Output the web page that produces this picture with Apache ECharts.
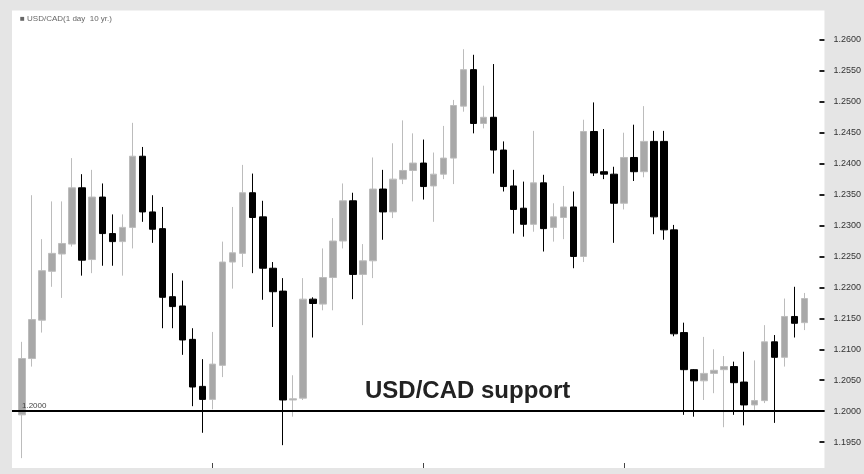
<!DOCTYPE html>
<html>
<head>
<meta charset="utf-8">
<script src="https://cdn.jsdelivr.net/npm/echarts@6/dist/echarts.min.js"></script>
<style>
  html, body { margin: 0; padding: 0; background: #e5e5e5; }
  #chart { width: 864px; height: 474px; }
</style>
</head>
<body>
<div id="chart"></div>
<script>
// daily USD/CAD candles
const open = [
  1.1994, 1.2085, 1.2147, 1.2226, 1.2254, 1.2270, 1.2361, 1.2245, 1.2346, 1.2287,
  1.2274, 1.2297, 1.2412, 1.2322, 1.2295, 1.2185, 1.2170, 1.2116, 1.2040, 1.2019,
  1.2074, 1.2241, 1.2255, 1.2353, 1.2314, 1.2231, 1.2194, 1.2018, 1.2021, 1.2181,
  1.2173, 1.2216, 1.2275, 1.2340, 1.2221, 1.2243, 1.2359, 1.2322, 1.2375, 1.2389,
  1.2401, 1.2364, 1.2383, 1.2409, 1.2493, 1.2552, 1.2465, 1.2475, 1.2422, 1.2364,
  1.2328, 1.2302, 1.2369, 1.2297, 1.2313, 1.2330, 1.2250, 1.2452, 1.2387, 1.2383,
  1.2336, 1.2410, 1.2387, 1.2436, 1.2436, 1.2293, 1.2127, 1.2067, 1.2049, 1.2061,
  1.2067, 1.2072, 1.2047, 1.2010, 1.2017, 1.2112, 1.2087, 1.2153, 1.2143
];
const close = [
  1.2085, 1.2148, 1.2227, 1.2255, 1.2271, 1.2361, 1.2244, 1.2346, 1.2287, 1.2274,
  1.2297, 1.2412, 1.2322, 1.2294, 1.2184, 1.2169, 1.2115, 1.2039, 1.2019, 1.2076,
  1.2241, 1.2256, 1.2353, 1.2313, 1.2231, 1.2193, 1.2018, 1.2020, 1.2181, 1.2174,
  1.2216, 1.2275, 1.2340, 1.2221, 1.2243, 1.2359, 1.2322, 1.2375, 1.2389, 1.2401,
  1.2363, 1.2383, 1.2409, 1.2494, 1.2552, 1.2465, 1.2475, 1.2422, 1.2363, 1.2326,
  1.2302, 1.2369, 1.2295, 1.2314, 1.2330, 1.2250, 1.2452, 1.2385, 1.2383, 1.2336,
  1.2410, 1.2387, 1.2436, 1.2314, 1.2293, 1.2125, 1.2067, 1.2049, 1.2061, 1.2066,
  1.2072, 1.2046, 1.2010, 1.2017, 1.2112, 1.2087, 1.2153, 1.2142, 1.2182
];
const low = [
  1.1924, 1.2072, 1.2127, 1.2201, 1.2183, 1.2266, 1.2219, 1.2223, 1.2235, 1.2235,
  1.2219, 1.2263, 1.2306, 1.2272, 1.2134, 1.2134, 1.2091, 1.2008, 1.1965, 1.2003,
  1.2055, 1.2198, 1.2233, 1.2223, 1.2180, 1.2136, 1.1945, 1.1991, 1.2018, 1.2119,
  1.2163, 1.2163, 1.2263, 1.2181, 1.2139, 1.2215, 1.2277, 1.2312, 1.2367, 1.2339,
  1.2342, 1.2306, 1.2375, 1.2367, 1.2484, 1.2449, 1.2457, 1.2384, 1.2355, 1.2287,
  1.2282, 1.2290, 1.2258, 1.2274, 1.2278, 1.2231, 1.2241, 1.2380, 1.2375, 1.2272,
  1.2326, 1.2372, 1.2378, 1.2286, 1.2277, 1.2121, 1.1994, 1.1991, 1.2018, 1.2029,
  1.1974, 1.1994, 1.1977, 1.2002, 1.2013, 1.1981, 1.2072, 1.2119, 1.2131
];
const high = [
  1.2112, 1.2349, 1.2278, 1.2339, 1.2339, 1.2409, 1.2383, 1.2390, 1.2368, 1.2318,
  1.2318, 1.2466, 1.2427, 1.2349, 1.2330, 1.2223, 1.2211, 1.2134, 1.2084, 1.2128,
  1.2274, 1.2330, 1.2398, 1.2384, 1.2340, 1.2241, 1.2215, 1.2058, 1.2215, 1.2184,
  1.2263, 1.2312, 1.2368, 1.2353, 1.2270, 1.2410, 1.2390, 1.2433, 1.2470, 1.2449,
  1.2439, 1.2418, 1.2461, 1.2503, 1.2585, 1.2576, 1.2526, 1.2561, 1.2436, 1.2390,
  1.2371, 1.2453, 1.2382, 1.2336, 1.2364, 1.2355, 1.2471, 1.2499, 1.2456, 1.2395,
  1.2450, 1.2463, 1.2493, 1.2453, 1.2453, 1.2301, 1.2143, 1.2068, 1.2120, 1.2100,
  1.2089, 1.2080, 1.2096, 1.2082, 1.2139, 1.2123, 1.2182, 1.2201, 1.2191
];
// labelled price range on the right axis
const yLabelMin = 1.195;
const yLabelMax = 1.26;
const xTicks = [19, 40, 60];
const supportLevel = 1.2;

const days = open.map((_, i) => i);
const candles = days.map((d, i) => [d, open[i], close[i], low[i], high[i]]);

const chart = echarts.init(document.getElementById("chart"));
chart.setOption({
  animation: false,
  backgroundColor: "#e5e5e5",
  title: {
    text: "\u25A0 USD/CAD(1 day  10 yr.)",
    left: 15,
    top: 10,
    textStyle: {
      fontFamily: "Liberation Sans, Arial, sans-serif",
      fontSize: 8,
      fontWeight: "normal",
      color: "#666"
    }
  },
  grid: {
    left: 12,
    right: 37,
    top: 9,
    bottom: 1,
    show: true,
    backgroundColor: "#fff",
    borderWidth: 0
  },
  xAxis: {
    type: "value",
    min: -1,
    max: 80,
    offset: -5,
    axisLine: { show: false, onZero: false },
    axisTick: {
      show: true,
      inside: true,
      length: 5,
      customValues: xTicks,
      lineStyle: { color: "#444" }
    },
    axisLabel: { show: false },
    splitLine: { show: false }
  },
  yAxis: {
    type: "value",
    position: "right",
    offset: -5,
    min: 1.19,
    max: 1.265,
    interval: 0.005,
    axisLine: { show: false, onZero: false },
    axisTick: {
      show: true,
      length: 5,
      lineStyle: { color: "#222", width: 2 }
    },
    axisLabel: {
      margin: 14,
      fontFamily: "Liberation Sans, Arial, sans-serif",
      fontSize: 9,
      color: "#333",
      formatter: function(val) {
        if (val < yLabelMin - 1e-6 || val > yLabelMax + 1e-6) return "";
        return val.toFixed(4);
      }
    },
    splitLine: { show: false }
  },
  graphic: [
    {
      // grey frame strips over the plot edges
      type: "rect",
      left: 0,
      top: 468,
      z: 100,
      shape: { width: 864, height: 6 },
      style: { fill: "#e5e5e5" }
    },
    {
      type: "rect",
      left: 0,
      top: 0,
      z: 100,
      shape: { width: 864, height: 10.5 },
      style: { fill: "#e5e5e5" }
    },
    {
      type: "text",
      left: 365,
      top: 379,
      style: {
        text: "USD/CAD support",
        font: "bold 24px 'Liberation Sans', Arial, sans-serif",
        fill: "#222"
      }
    }
  ],
  series: [
    {
      name: "USD/CAD",
      type: "candlestick",
      data: candles,
      dimensions: ["day", "open", "close", "low", "high"],
      encode: { x: "day", y: ["open", "close", "low", "high"] },
      barWidth: 7,
      itemStyle: {
        color: "#a8a8a8",
        borderColor: "#bcbcbc",
        color0: "#000",
        borderColor0: "#000",
        borderWidth: 1
      },
      markLine: {
        silent: true,
        symbol: "none",
        data: [{ yAxis: supportLevel }],
        lineStyle: { color: "#000", width: 2, type: "solid" },
        label: {
          position: "insideStartTop",
          distance: [10, 1],
          fontFamily: "Liberation Sans, Arial, sans-serif",
          fontSize: 8,
          color: "#444",
          formatter: function(p) {
            return p.value.toFixed(4);
          }
        }
      }
    }
  ]
});
</script>
</body>
</html>
